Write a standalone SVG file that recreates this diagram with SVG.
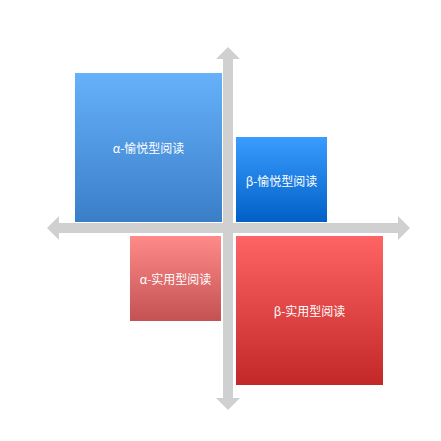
<svg xmlns="http://www.w3.org/2000/svg" width="441" height="441" viewBox="0 0 441 441">
<style>
.lbl{font-family:"Noto Sans CJK SC","Noto Sans",sans-serif;font-size:12px;fill:#ffffff;text-anchor:middle;dominant-baseline:central}
.axis{fill:#d0d0d0}
</style>
<defs>
<linearGradient id="gA1" x1="0" y1="0" x2="0" y2="1"><stop offset="0" stop-color="#66b1fa"/><stop offset="1" stop-color="#3a7ec8"/></linearGradient>
<linearGradient id="gB1" x1="0" y1="0" x2="0" y2="1"><stop offset="0" stop-color="#3b9cff"/><stop offset="1" stop-color="#0060c6"/></linearGradient>
<linearGradient id="gA2" x1="0" y1="0" x2="0" y2="1"><stop offset="0" stop-color="#ff8a8a"/><stop offset="1" stop-color="#c45252"/></linearGradient>
<linearGradient id="gB2" x1="0" y1="0" x2="0" y2="1"><stop offset="0" stop-color="#ff6464"/><stop offset="1" stop-color="#c22828"/></linearGradient>
</defs>
<rect width="441" height="441" fill="#ffffff"/>
<g id="connectors">
<rect class="axis" x="223" y="58" width="10" height="341"/>
<polygon class="axis" points="228,47 240,59 216,59"/>
<polygon class="axis" points="228,410 240,398 216,398"/>
<rect class="axis" x="58" y="223" width="341" height="10"/>
<polygon class="axis" points="47,228 59,216 59,240"/>
<polygon class="axis" points="410,228 398,216 398,240"/>
</g>
<g id="alpha-pleasure">
<rect x="75" y="73" width="147" height="149" fill="url(#gA1)"/>
<text class="lbl" x="148.5" y="147">α-愉悦型阅读</text>
</g>
<g id="beta-pleasure">
<rect x="236" y="137" width="91" height="85" fill="url(#gB1)"/>
<text class="lbl" x="281.5" y="180">β-愉悦型阅读</text>
</g>
<g id="alpha-practical">
<rect x="130" y="236" width="91" height="85" fill="url(#gA2)"/>
<text class="lbl" x="175.5" y="278">α-实用型阅读</text>
</g>
<g id="beta-practical">
<rect x="236" y="236" width="147" height="149" fill="url(#gB2)"/>
<text class="lbl" x="309.5" y="310">β-实用型阅读</text>
</g>
</svg>
